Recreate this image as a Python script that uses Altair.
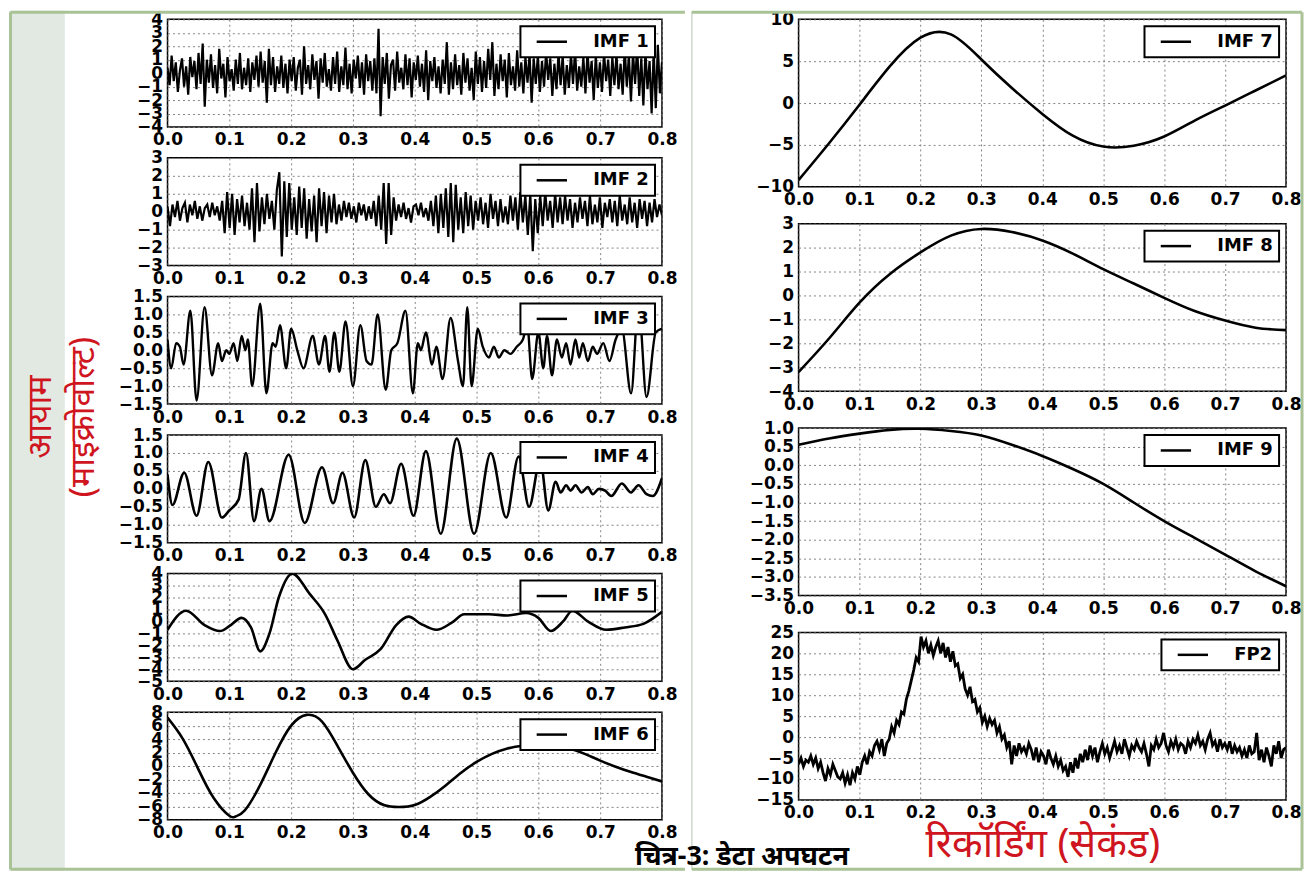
import altair as alt
import numpy as np
import pandas as pd

XTICKS = [0.0, 0.1, 0.2, 0.3, 0.4, 0.5, 0.6, 0.7, 0.8]

imf1 = [0.4, -0.9, 1.3, -0.6, 0.8, -1.4, 0.2, 1.1, -1.0, 0.5, -1.6, 1.2, -0.3, 0.9, -1.2, 1.5, -0.8, 2.2, -2.5, 1.0,
        -0.7, 1.4, -1.1, 0.6, -1.5, 1.8, -0.4, 0.7, -1.8, 1.2, -0.6, 0.3, -1.3, 1.0, -0.8, 1.5, -1.2, 0.4, -0.9, 1.1,
        -1.4, 0.8, -0.5, 1.3, -1.0, 1.6, -0.7, 0.9, -2.2, 1.8, -0.9, 1.2, -1.4, 0.5, -0.8, 1.3, -1.1, 0.7, -1.5, 1.0,
        -0.6, 1.2, -1.3, 0.4, 1.0, -1.6, 2.0, -0.8, 0.6, -1.2, 1.4, -0.5, 0.9, -1.9, 1.1, -0.7, 1.5, -1.0, 0.3, -1.3,
        1.2, -0.8, 1.6, -1.4, 0.5, -0.9, 1.9, -1.2, 0.7, -1.5, 1.0, -0.4, 1.3, -1.1, 0.8, -1.6, 1.4, -0.6, 0.9, -1.3,
        1.1, -1.5, 3.3, -3.2, 1.2, -0.8, 1.5, -1.9, 0.6, 1.0, -1.3, 1.6, -0.7, 0.4, -1.2, 1.4, -0.9, 1.1, -1.8, 0.8,
        -0.5, 1.3, -1.0, 0.7, -1.4, 1.7, -2.0, 0.9, -0.6, 1.2, -1.1, 0.5, -1.5, 1.0, -0.8, 2.3, -1.6, 0.8, -1.2, 1.4,
        -0.9, 0.6, -1.6, 1.5, -0.7, 1.1, -1.3, 0.4, -2.0, 1.6, -0.8, 1.2, -1.4, 0.9, -1.1, 1.8, -0.5, 2.3, -1.7, 0.7,
        -1.2, 1.4, -0.6, 1.0, -1.8, 1.5, -0.9, 0.5, -1.3, 1.7, -1.0, 0.8, -1.5, 1.2, -0.7, 1.4, -2.2, 1.1, -0.8, 1.3,
        -1.4, 0.9, -1.0, 1.6, -0.5, 1.1, -1.7, 0.7, -1.2, 1.5, -0.9, 1.3, -1.6, 0.6, -1.1, 1.4, -0.8, 1.7, -1.3, 0.5,
        -1.0, 1.2, -1.5, 1.6, -0.7, 0.9, -2.0, 1.3, -1.1, 0.8, -1.4, 1.5, -0.6, 1.0, -1.7, 1.2, -0.9, 1.4, -1.2, 0.7,
        -1.6, 1.8, -1.0, 1.3, -2.1, 1.5, -0.8, 2.0, -1.7, 1.1, -2.4, 1.6, -1.2, 0.9, -3.0, 1.7, -2.6, 2.1, -1.5, 0.8]

imf2 = [0.3, -0.8, 0.4, -0.3, 0.6, -0.5, 0.2, 0.5, -0.6, 0.4, -0.2, 0.6, -0.4, 0.3, -0.5, 0.2, 0.4, -0.3, 0.5, -0.2,
        0.3, -0.5, 0.6, -1.2, 1.1, -0.9, 1.0, -1.3, 0.7, -0.6, 0.9, -0.8, 0.5, -1.0, 1.3, -1.7, 1.6, -1.1, 0.8, -0.7,
        1.0, -0.4, 0.6, -1.0, 1.2, 2.2, -2.5, 1.7, -1.4, 1.6, -1.0, 0.8, -1.3, 1.4, -0.9, 1.3, -1.5, 0.7, -1.1, 0.9,
        -1.7, 1.3, -0.8, 1.1, -1.2, 0.9, -0.6, 1.0, -0.7, 0.4, -0.5, 0.6, -0.3, 0.5, -0.4, 0.3, -0.6, 0.5, -0.2, 0.4,
        -0.5, 0.3, -0.4, 0.6, -0.8, 0.9, -1.0, 1.6, -1.8, 1.6, -1.3, 0.8, -0.5, 0.4, -0.3, 0.5, -0.4, 0.2, -0.6, 0.3,
        0.4, -0.2, 0.5, -0.3, 0.2, -0.5, 0.6, -0.8, 0.9, -1.2, 1.0, -0.9, 1.3, -1.4, 1.6, -1.7, 1.5, -1.0, 0.8, -1.2,
        1.1, -0.8, 0.9, -1.0, 0.6, -0.5, 0.8, -0.7, 0.5, -0.9, 1.0, -0.4, 0.6, -0.8, 0.7, -0.6, 0.3, -0.7, 0.9, -0.5,
        0.8, -1.0, 1.1, -0.6, 0.9, -1.3, 1.0, -2.2, 0.7, -1.2, 0.9, -0.8, 1.1, -0.5, 0.6, -0.9, 1.0, -0.6, 0.8, -0.7,
        0.9, -0.5, 0.7, -0.9, 0.5, -0.6, 0.8, -0.4, 0.6, -0.8, 0.9, -0.7, 0.4, -0.6, 0.8, -0.9, 0.5, -0.3, 0.7, -0.6,
        0.6, -0.8, 0.9, -0.5, 0.4, -0.7, 0.8, -0.6, 0.5, -0.9, 0.7, -0.4, 0.6, -0.8, 0.5, -0.6, 0.7, -0.3, 0.4, -0.2]

imf3_t = [0.000, 0.006, 0.014, 0.020, 0.026, 0.037, 0.047, 0.060, 0.072, 0.082, 0.088, 0.095, 0.100, 0.107, 0.113,
          0.120, 0.126, 0.130, 0.137, 0.150, 0.160, 0.170, 0.175, 0.182, 0.192, 0.200, 0.210, 0.220, 0.235, 0.245,
          0.255, 0.262, 0.270, 0.278, 0.288, 0.300, 0.312, 0.322, 0.330, 0.340, 0.353, 0.362, 0.372, 0.385, 0.397,
          0.405, 0.410, 0.418, 0.428, 0.435, 0.445, 0.458, 0.470, 0.478, 0.485, 0.492, 0.502, 0.510, 0.520, 0.528,
          0.536, 0.545, 0.555, 0.565, 0.575, 0.582, 0.590, 0.600, 0.608, 0.614, 0.622, 0.630, 0.638, 0.645, 0.652,
          0.660, 0.666, 0.672, 0.680, 0.688, 0.695, 0.705, 0.715, 0.725, 0.735, 0.750, 0.762, 0.775, 0.790, 0.800]
imf3_v = [0.3, -0.5, 0.2, 0.1, -0.4, 1.1, -1.4, 1.2, -0.7, 0.2, -0.3, 0.0, -0.1, 0.2, -0.3,
          0.4, 0.0, 0.3, -1.0, 1.3, -1.2, 0.2, 0.1, 0.7, -0.5, 0.6, 0.0, -0.5, 0.4, -0.4,
          0.4, -0.6, 0.5, -0.6, 0.8, -1.0, 0.7, -0.3, -0.4, 1.0, -1.1, 0.0, 0.2, 1.1, -1.2,
          0.2, 0.0, 0.5, -0.4, 0.1, -0.8, 0.9, -0.3, -1.0, 1.2, -1.0, 0.6, 0.1, -0.2, 0.1,
          -0.2, 0.0, -0.1, 0.1, 0.3, 0.7, -0.8, 0.5, -0.5, 0.4, -0.7, 0.3, -0.2, 0.2, -0.4,
          0.3, -0.2, 0.2, -0.3, 0.1, -0.1, 0.2, -0.3, 0.3, 0.6, -1.2, 1.3, -1.3, 0.5, 0.6]

imf4_t = [0.000, 0.008, 0.027, 0.047, 0.066, 0.088, 0.100, 0.115, 0.127, 0.140, 0.152, 0.165, 0.196, 0.222, 0.250,
          0.268, 0.283, 0.302, 0.320, 0.337, 0.350, 0.360, 0.378, 0.398, 0.418, 0.442, 0.468, 0.496, 0.523, 0.548,
          0.568, 0.585, 0.603, 0.616, 0.628, 0.636, 0.645, 0.652, 0.660, 0.670, 0.680, 0.688, 0.698, 0.708, 0.718,
          0.735, 0.750, 0.762, 0.775, 0.785, 0.800]
imf4_v = [0.4, -0.45, 0.45, -0.75, 0.75, -0.8, -0.6, -0.3, 1.0, -0.9, 0.0, -0.9, 0.95, -0.95, 0.6,
          -0.4, 0.45, -0.8, 0.8, -0.5, -0.15, -0.4, 0.7, -0.75, 1.05, -1.25, 1.4, -1.25, 1.0, -0.8,
          0.9, -0.5, 0.8, -0.6, 0.2, -0.1, 0.1, -0.05, 0.1, -0.1, 0.05, -0.15, 0.0, -0.05, -0.2,
          0.15, -0.1, 0.1, -0.15, -0.2, 0.3]

imf5_t = [0.000, 0.030, 0.060, 0.085, 0.100, 0.120, 0.135, 0.150, 0.165, 0.180, 0.202, 0.230, 0.255, 0.275, 0.300,
          0.320, 0.345, 0.370, 0.390, 0.410, 0.435, 0.460, 0.480, 0.520, 0.550, 0.580, 0.600, 0.620, 0.640, 0.655,
          0.680, 0.710, 0.740, 0.770, 0.800]
imf5_v = [-0.7, 0.9, -0.3, -0.8, -0.4, 0.3, -0.5, -2.5, -1.0, 2.0, 4.0, 2.3, 0.6, -1.6, -4.0,
          -3.2, -2.3, -0.3, 0.4, -0.2, -0.7, -0.1, 0.6, 0.6, 0.5, 0.7, 0.3, -0.8, 0.0, 0.9,
          0.0, -0.7, -0.5, -0.2, 0.8]

imf6_t = [0.000, 0.025, 0.050, 0.075, 0.100, 0.110, 0.125, 0.150, 0.175, 0.200, 0.225, 0.250, 0.275, 0.300, 0.325,
          0.350, 0.375, 0.400, 0.425, 0.450, 0.475, 0.500, 0.525, 0.550, 0.575, 0.600, 0.625, 0.650, 0.675, 0.700,
          0.725, 0.750, 0.775, 0.800]
imf6_v = [7.2, 4.0, -0.5, -4.8, -7.4, -7.5, -6.6, -2.8, 2.0, 6.0, 7.6, 6.6, 3.0, -1.0, -4.2,
          -5.8, -6.1, -5.8, -4.6, -2.9, -1.0, 0.6, 1.8, 2.6, 3.0, 3.1, 3.0, 2.6, 1.8, 0.8,
          -0.1, -0.9, -1.6, -2.3]

imf7_t = [0.00, 0.05, 0.10, 0.15, 0.20, 0.25, 0.30, 0.35, 0.40, 0.45, 0.50, 0.55, 0.60, 0.65, 0.70, 0.75, 0.80]
imf7_v = [-9.2, -4.8, -0.2, 4.4, 7.8, 8.2, 5.2, 1.8, -1.3, -3.9, -5.2, -5.1, -4.0, -2.1, -0.3, 1.5, 3.3]

imf8_t = [0.00, 0.05, 0.10, 0.15, 0.20, 0.25, 0.30, 0.35, 0.40, 0.45, 0.50, 0.55, 0.60, 0.65, 0.70, 0.75, 0.80]
imf8_v = [-3.2, -1.8, -0.3, 0.9, 1.8, 2.5, 2.78, 2.65, 2.3, 1.75, 1.1, 0.5, -0.1, -0.65, -1.05, -1.35, -1.45]

imf9_t = [0.00, 0.05, 0.10, 0.15, 0.20, 0.25, 0.30, 0.35, 0.40, 0.45, 0.50, 0.55, 0.60, 0.65, 0.70, 0.75, 0.80]
imf9_v = [0.55, 0.72, 0.85, 0.95, 0.98, 0.92, 0.8, 0.55, 0.25, -0.1, -0.5, -1.0, -1.5, -1.95, -2.4, -2.85, -3.25]

fp2 = [-6.5, -5.0, -7.0, -5.5, -6.0, -4.5, -6.5, -5.0, -7.5, -6.0, -8.5, -10.5, -7.5, -9.0, -6.5, -8.0, -9.5, -10.0, -8.5, -11.0,
       -9.0, -11.5, -8.5, -10.0, -7.0, -9.0, -6.0, -4.5, -6.5, -3.5, -4.5, -2.0, -1.0, -3.0, -0.5, -4.5, -1.5, -0.5, 2.5, 1.0,
       4.0, 3.0, 6.0, 5.5, 9.0, 11.0, 13.5, 16.0, 19.0, 18.0, 24.0, 21.5, 23.0, 20.0, 22.0, 19.5, 21.5, 23.0, 20.0, 22.5,
       19.0, 21.5, 18.0, 20.5, 17.0, 17.5, 14.0, 15.0, 11.5, 10.0, 12.0, 8.5, 9.0, 6.0, 7.0, 3.5, 5.0, 2.5, 4.5, 3.0,
       4.0, 1.0, 2.5, -0.5, 0.5, -2.5, -1.0, -6.5, -2.0, -4.5, -1.5, -3.5, -2.5, -4.0, -1.5, -3.0, -5.5, -2.5, -6.0, -3.5,
       -4.5, -6.5, -3.0, -5.0, -6.5, -4.5, -7.0, -5.5, -8.0, -7.0, -9.5, -6.0, -8.5, -5.0, -7.5, -4.0, -6.0, -3.0, -5.5, -2.0,
       -4.5, -2.5, -6.0, -3.5, -1.5, -4.0, -2.5, -5.0, -3.0, -1.0, -3.5, -2.0, -4.0, -0.5, -2.5, -4.5, -2.0, -3.0, -1.0, -2.5,
       -3.5, -1.5, -4.0, -7.0, -2.0, -3.0, -0.5, -2.5, -1.5, 1.0, -2.0, -3.5, -1.0, -2.5, -0.5, -3.0, -1.5, -2.0, -4.0, -1.0,
       -2.5, -0.5, -1.5, 0.5, -2.0, -1.0, -3.0, -0.5, 1.0, -2.0, -1.0, -3.5, -0.5, -2.5, -1.5, -3.0, -1.0, -4.0, -2.0, -3.5,
       -2.5, -4.5, -3.0, -5.0, -2.0, -4.0, -3.5, 1.0, -5.5, -3.0, -6.0, -2.5, -4.5, -7.0, -2.0, -4.0, -1.0, -5.0, -3.0, -2.5]

RED = "#cf1520"
STRIP = "#e2e9e2"
GREEN = "#a9c296"
DIVIDER = "#cdd8cc"
FONT = "DejaVu Sans"

one = pd.DataFrame({"a": [0]})
base = alt.Chart(one)


def panel(name, t, v, ydom, yticks, yfmt, w, h, lw, interp, xtitle=None, extras=()):
    df = pd.DataFrame({"t": t, "v": v, "s": [name] * len(t)})
    if xtitle:
        xax = alt.Axis(values=XTICKS, format=".1f", labelFlush=False, labelOverlap=False,
                       title=xtitle, titleColor=RED, titleFontSize=40, titleFontWeight="normal",
                       titleFont="Noto Sans", titlePadding=4)
    else:
        xax = alt.Axis(values=XTICKS, format=".1f", labelFlush=False, labelOverlap=False, title=None)
    line = alt.Chart(df).mark_line(strokeWidth=lw, interpolate=interp, clip=True).encode(
        x=alt.X("t:Q", scale=alt.Scale(domain=[0, 0.8], nice=False, zero=False), axis=xax),
        y=alt.Y("v:Q", scale=alt.Scale(domain=ydom, nice=False, zero=False),
                axis=alt.Axis(values=yticks, format=yfmt, labelFlush=False, labelOverlap=False, title=None)),
        color=alt.Color("s:N", scale=alt.Scale(domain=[name], range=["black"]),
                        legend=alt.Legend(title=None, orient="top-right", offset=7)),
    )
    return alt.layer(*extras, line).properties(width=w, height=h)


# decorations drawn around the left column (relative to the IMF 1 plot area)
left_deco = [
    base.mark_rect(color=STRIP).encode(x=alt.value(-159), x2=alt.value(-103), y=alt.value(-8.5), y2=alt.value(854)),
    base.mark_rule(color=GREEN, strokeWidth=3).encode(x=alt.value(-157.5), y=alt.value(-7), y2=alt.value(852.5)),
    base.mark_rule(color=GREEN, strokeWidth=3).encode(x=alt.value(-157.5), x2=alt.value(519), y=alt.value(-7)),
    base.mark_rule(color=GREEN, strokeWidth=3).encode(x=alt.value(-157.5), x2=alt.value(519), y=alt.value(852.5)),
    base.mark_text(text="आयाम", angle=270, color=RED, fontSize=34, font="Noto Sans",
                   align="center", baseline="middle").encode(x=alt.value(-127), y=alt.value(399)),
    base.mark_text(text="(माइक्रोवोल्ट)", angle=270, color=RED, fontSize=34, font="Noto Sans",
                   align="center", baseline="middle").encode(x=alt.value(-84), y=alt.value(399)),
]

# decorations drawn around the right column (relative to the IMF 7 plot area)
right_deco = [
    base.mark_rule(color=DIVIDER, strokeWidth=1.5).encode(x=alt.value(-107), y=alt.value(-7.75), y2=alt.value(853)),
    base.mark_rule(color=GREEN, strokeWidth=3).encode(x=alt.value(-107), x2=alt.value(505), y=alt.value(-7)),
    base.mark_rule(color=GREEN, strokeWidth=3).encode(x=alt.value(-107), x2=alt.value(505), y=alt.value(852.5)),
    base.mark_rule(color=GREEN, strokeWidth=3).encode(x=alt.value(505), y=alt.value(-7), y2=alt.value(852.5)),
]

LW, LH = 496, 108
RW, RH = 489, 168

left = alt.vconcat(
    panel("IMF 1", np.linspace(0, 0.8, len(imf1)), imf1, [-4, 4], [-4, -3, -2, -1, 0, 1, 2, 3, 4], "d", LW, LH, 2.2, "linear",
          extras=left_deco),
    panel("IMF 2", np.linspace(0, 0.8, len(imf2)), imf2, [-3, 3], [-3, -2, -1, 0, 1, 2, 3], "d", LW, LH, 2.2, "linear"),
    panel("IMF 3", imf3_t, imf3_v, [-1.5, 1.5], [-1.5, -1.0, -0.5, 0.0, 0.5, 1.0, 1.5], ".1f", LW, LH, 2.4, "monotone"),
    panel("IMF 4", imf4_t, imf4_v, [-1.5, 1.5], [-1.5, -1.0, -0.5, 0.0, 0.5, 1.0, 1.5], ".1f", LW, LH, 2.6, "monotone"),
    panel("IMF 5", imf5_t, imf5_v, [-5, 4], [-5, -4, -3, -2, -1, 0, 1, 2, 3, 4], "d", LW, LH, 2.6, "monotone"),
    panel("IMF 6", imf6_t, imf6_v, [-8, 8], [-8, -6, -4, -2, 0, 2, 4, 6, 8], "d", LW, LH, 2.6, "natural"),
    spacing=31, bounds="flush",
).resolve_scale(color="independent").resolve_legend(color="independent")

right = alt.vconcat(
    panel("IMF 7", imf7_t, imf7_v, [-10, 10], [-10, -5, 0, 5, 10], "d", RW, RH, 2.6, "natural", extras=right_deco),
    panel("IMF 8", imf8_t, imf8_v, [-4, 3], [-4, -3, -2, -1, 0, 1, 2, 3], "d", RW, RH, 2.6, "natural"),
    panel("IMF 9", imf9_t, imf9_v, [-3.5, 1.0], [-3.5, -3.0, -2.5, -2.0, -1.5, -1.0, -0.5, 0.0, 0.5, 1.0], ".1f", RW, RH, 2.6, "natural"),
    panel("FP2", np.linspace(0, 0.8, len(fp2)), fp2, [-15, 25], [-15, -10, -5, 0, 5, 10, 15, 20, 25], "d", RW, RH, 2.8, "linear",
          xtitle="रिकॉर्डिंग (सेकंड)"),
    spacing=37, bounds="flush",
).resolve_scale(color="independent").resolve_legend(color="independent")

chart = alt.hconcat(left, right, spacing=1).resolve_scale(color="independent").resolve_legend(
    color="independent"
).properties(
    padding=0, background="white",
    title=alt.TitleParams(text="चित्र-3: डेटा अपघटन", orient="bottom", anchor="middle", fontSize=27,
                          fontWeight="bold", font="Noto Sans", color="black", offset=-27, dx=86),
).configure_view(
    stroke="black", strokeWidth=1.5
).configure_axis(
    grid=True, gridColor="#777777", gridDash=[2, 3], gridWidth=1, gridOpacity=0.9,
    domain=False, ticks=False, labelFont=FONT, labelFontSize=17, labelFontWeight="bold",
    labelColor="black", labelPadding=5
).configure_legend(
    strokeColor="black", strokeWidth=2, fillColor="white", padding=6, cornerRadius=0,
    symbolType="M-1.9,0H1.9", symbolSize=256, symbolStrokeWidth=2.5, symbolOffset=16,
    labelFont=FONT, labelFontSize=18, labelFontWeight="bold", labelColor="black", labelOffset=32
)

chart.save("out.html", embed_options={"renderer": "svg", "actions": False})
